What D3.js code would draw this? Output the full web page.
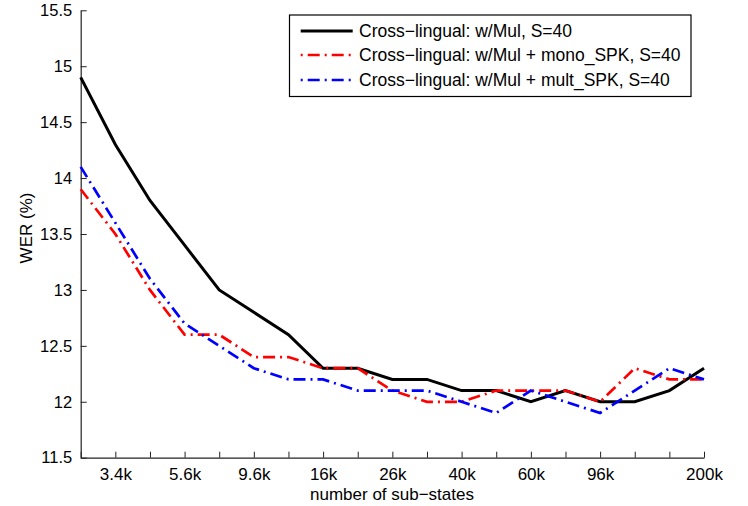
<!DOCTYPE html>
<html>
<head>
<meta charset="utf-8">
<script src="https://cdn.jsdelivr.net/npm/d3@7"></script>
<style>
  html, body { margin: 0; padding: 0; background: #fff; }
  svg text { font-family: "Liberation Sans", Arial, Helvetica, sans-serif; fill: #000; }
</style>
</head>
<body>
<svg id="chart" width="748" height="506"></svg>
<script>
// ---- data ----
const xIndex = d3.range(19);
const xTickLabels = ["", "3.4k", "", "5.6k", "", "9.6k", "", "16k", "", "26k", "", "40k", "", "60k", "", "96k", "", "", "200k"];
const yTicks = [11.5, 12, 12.5, 13, 13.5, 14, 14.5, 15, 15.5];
const yTickLabels = ["11.5", "12", "12.5", "13", "13.5", "14", "14.5", "15", "15.5"];

const seriesNames = [
  "Cross\u2212lingual: w/Mul, S=40",
  "Cross\u2212lingual: w/Mul + mono_SPK, S=40",
  "Cross\u2212lingual: w/Mul + mult_SPK, S=40"
];
const werBase = [14.9, 14.3, 13.8, 13.4, 13.0, 12.8, 12.6, 12.3, 12.3, 12.2, 12.2, 12.1, 12.1, 12.0, 12.1, 12.0, 12.0, 12.1, 12.3];
const werMono = [13.9, 13.5, 13.0, 12.6, 12.6, 12.4, 12.4, 12.3, 12.3, 12.1, 12.0, 12.0, 12.1, 12.1, 12.1, 12.0, 12.3, 12.2, 12.2];
const werMult = [14.1, 13.6, 13.1, 12.7, 12.5, 12.3, 12.2, 12.2, 12.1, 12.1, 12.1, 12.0, 11.9, 12.1, 12.0, 11.9, 12.1, 12.3, 12.2];

const seriesValues = [werBase, werMono, werMult];
const seriesColors = ["#000000", "#ff0000", "#0000ff"];
const seriesDash = [null, "12,5,2,5", "12,5,2,5"];
const seriesWidth = [3, 2.7, 2.7];

// ---- layout ----
const svg = d3.select("#chart");
const mLeft = 80.7, mRight = 704, mTop = 10.3, mBottom = 457.7;
const fontPx = "17px";

const x = d3.scaleLinear().domain([0, 18]).range([mLeft, mRight]);
const y = d3.scaleLinear().domain([11.5, 15.5]).range([mBottom, mTop]);

// axes
const xAxis = d3.axisBottom(x)
  .tickValues(xIndex)
  .tickFormat(i => xTickLabels[i])
  .tickSizeInner(-6).tickSizeOuter(0).tickPadding(10.5);
const gx = svg.append("g").attr("transform", `translate(0,${mBottom})`).call(xAxis);
gx.selectAll("text").style("font-size", fontPx);

const yAxis = d3.axisLeft(y)
  .tickValues(yTicks)
  .tickFormat((d, i) => yTickLabels[i])
  .tickSizeInner(-6).tickSizeOuter(0).tickPadding(8.5);
const gy = svg.append("g").attr("transform", `translate(${mLeft},0)`).call(yAxis);
gy.selectAll("text").style("font-size", "16.5px");

svg.selectAll(".domain").attr("stroke", "#222").attr("stroke-width", 1.2);
svg.selectAll(".tick line").attr("stroke", "#222").attr("stroke-width", 1);

// axis titles
svg.append("text")
  .attr("x", 392).attr("y", 500)
  .attr("text-anchor", "middle")
  .style("font-size", fontPx)
  .text("number of sub\u2212states");

svg.append("text")
  .attr("transform", "translate(32,228) rotate(-90)")
  .attr("text-anchor", "middle")
  .style("font-size", fontPx)
  .text("WER (%)");

// lines
const line = d3.line().x((d, i) => x(xIndex[i])).y(d => y(d));
seriesValues.forEach((vals, k) => {
  svg.append("path")
    .datum(vals)
    .attr("d", line)
    .attr("fill", "none")
    .attr("stroke", seriesColors[k])
    .attr("stroke-width", seriesWidth[k])
    .attr("stroke-dasharray", seriesDash[k])
    .attr("stroke-linejoin", "miter");
});

// legend
const lg = svg.append("g");
lg.append("rect")
  .attr("x", 289.5).attr("y", 15).attr("width", 401.5).attr("height", 81.5)
  .attr("fill", "#fff").attr("stroke", "#000").attr("stroke-width", 1.2);
const rowY = [31, 55, 80];
seriesNames.forEach((name, k) => {
  lg.append("line")
    .attr("x1", 300.7).attr("x2", 352.7)
    .attr("y1", rowY[k]).attr("y2", rowY[k])
    .attr("stroke", seriesColors[k])
    .attr("stroke-width", seriesWidth[k])
    .attr("stroke-dasharray", seriesDash[k] ? "2,5,12,5" : null);
  lg.append("text")
    .attr("x", 359).attr("y", rowY[k] + 5.5)
    .style("font-size", "17.5px")
    .text(name);
});
</script>
</body>
</html>
